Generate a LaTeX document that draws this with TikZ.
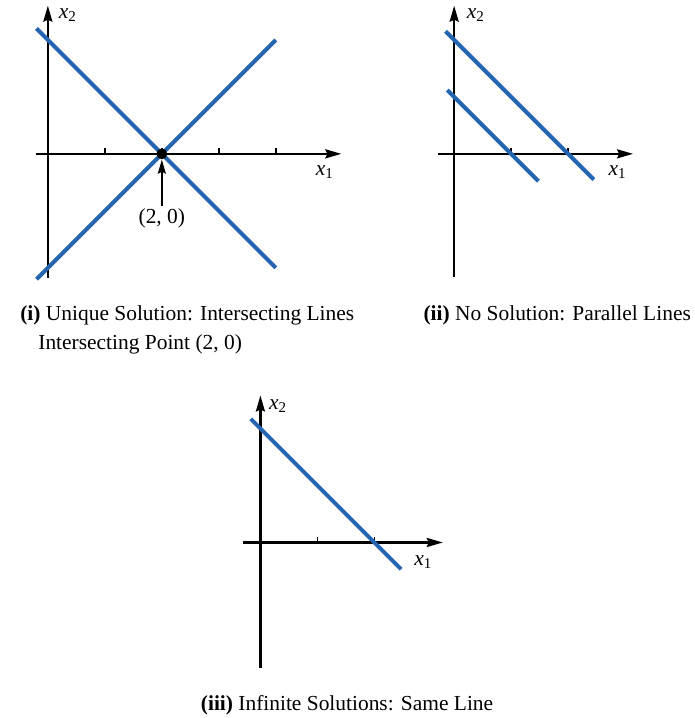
\documentclass[tikz,border=0pt]{standalone}
\usepackage{fontspec}
\setmainfont{Liberation Serif}
\usetikzlibrary{arrows.meta}
\definecolor{solblue}{RGB}{36,101,178}
\newcommand{\xv}[1]{\textit{x}\textsubscript{#1}}

\begin{document}
\begin{tikzpicture}[line join=round, font=\fontsize{10.7}{14.5}\selectfont,
		axisline/.style={line width=1.1pt, -{Stealth[length=8pt, width=4.5pt, inset=1pt]}},
		solline/.style={solblue, line width=2pt},
		tickmark/.style={line width=0.8pt}]
	\useasboundingbox (-0.84, 2.70) rectangle (11.35, -9.90);
	% (i) two lines crossing in one point
	\begin{scope}
		\draw[axisline] (-0.2, 0) -- (5.15, 0);
		\draw[axisline] (0, -2.17) -- (0, 2.6);
		\foreach \t in {1,...,4} \draw[tickmark] (\t, 0) -- (\t, 0.1);
		\draw[solline] (-0.2, 2.2) -- (4, -2);
		\draw[solline] (-0.2, -2.2) -- (4, 2);
		\node[circle, fill, inner sep=0pt, minimum size=0.19cm] (pt) at (2, 0) {};
		\node[inner sep=1pt] (ptlabel) at (2, -1.13) {(2, 0)};
		\draw[line width=0.8pt, -{Stealth[length=7pt, width=4pt, inset=1pt]}] (ptlabel.north) -- (pt.south);
		\node (x2i) at (0.35, 2.43) {\xv{2}};
		\node (x1i) at (4.86, -0.32) {\xv{1}};
	\end{scope}
	% (ii) two parallel lines
	\begin{scope}[shift={(7.13, 0)}]
		\draw[axisline] (-0.29, 0) -- (3.14, 0);
		\draw[axisline] (0, -2.16) -- (0, 2.6);
		\foreach \t in {1,2} \draw[tickmark] (\t, 0) -- (\t, 0.1);
		\draw[solline] (-0.15, 2.15) -- (2.45, -0.45);
		\draw[solline] (-0.12, 1.12) -- (1.48, -0.48);
		\node (x2ii) at (0.38, 2.43) {\xv{2}};
		\node (x1ii) at (2.87, -0.32) {\xv{1}};
	\end{scope}
	% (iii) one line twice
	\begin{scope}[shift={(3.73, -6.82)}]
		\draw[axisline] (-0.3, 0) -- (3.2, 0);
		\draw[axisline] (0, -2.2) -- (0, 2.58);
		\foreach \t in {1,2} \draw[tickmark] (\t, 0) -- (\t, 0.1);
		\draw[solline] (-0.17, 2.17) -- (2.47, -0.47);
		\node (x2iii) at (0.31, 2.39) {\xv{2}};
		\node (x1iii) at (2.86, -0.34) {\xv{1}};
	\end{scope}
	% captions
	\node[anchor=west, align=left, inner sep=0pt] (capi) at (-0.49, -3.09)
		{\textbf{(i)} Unique Solution: Intersecting Lines\\\hspace{9pt}Intersecting Point (2, 0)};
	\node[anchor=east, inner sep=0pt] (capii) at (11.29, -2.83) {\textbf{(ii)} No Solution: Parallel Lines};
	\node[inner sep=0pt] (capiii) at (5.25, -9.67) {\textbf{(iii)} Infinite Solutions: Same Line};
\end{tikzpicture}
\end{document}
